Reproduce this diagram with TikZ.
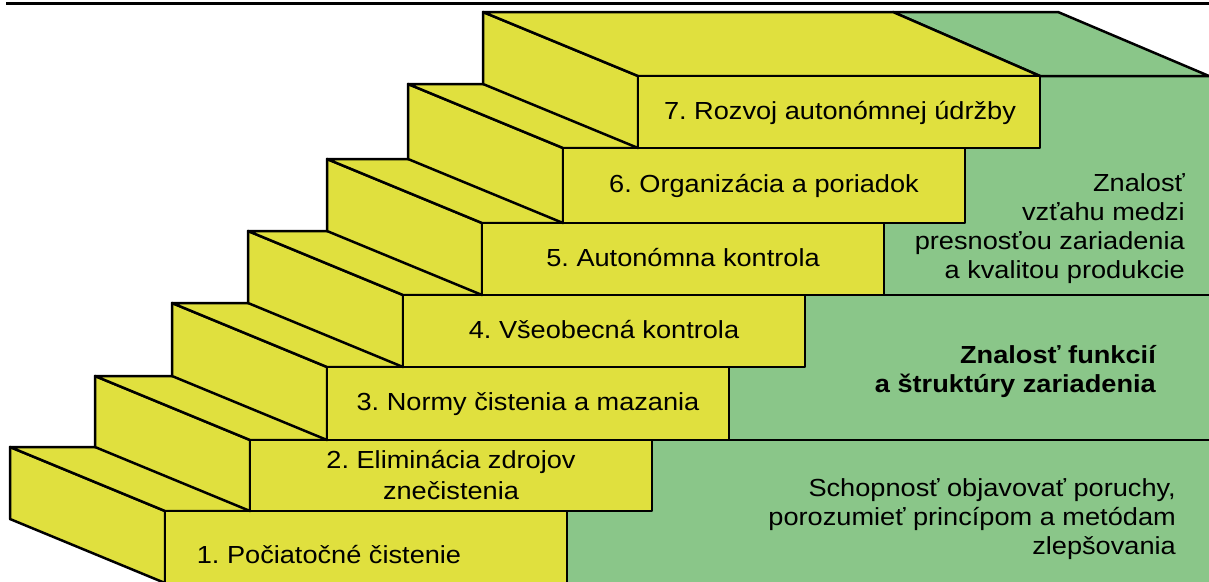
\documentclass[tikz,border=0pt]{standalone}
\usepackage{fontspec}
\setmainfont{Liberation Sans}[FakeStretch=1.1]
\frenchspacing
\definecolor{stepyellow}{RGB}{224,224,62}
\definecolor{knowgreen}{RGB}{138,198,137}

\begin{document}
\begin{tikzpicture}[x=1pt,y=-1pt,
  face/.style={fill=stepyellow,draw=black,line width=2.5pt,line join=round},
  gface/.style={fill=knowgreen,draw=black,line width=2.5pt,line join=round},
  edge/.style={draw=black,line width=2.5pt},
  steplabel/.style={font=\fontsize{24.7}{31}\selectfont,inner sep=0pt,align=center},
  greenlabel/.style={font=\fontsize{24.7}{29}\selectfont,inner sep=0pt,align=right,anchor=east},
]
\useasboundingbox (0,0) rectangle (1209,581);

\begin{scope}
  \clip (0,0) rectangle (1209,581);
  % green block standing behind the stairs
  \fill[knowgreen] (567,76) rectangle (1220,590);
  \draw[gface] (1040,76) -- (893,12) -- (1058,12) -- (1209,76) -- cycle;

  % seven steps, from the lowest to the highest:
  % front top-left x / front top y / front bottom y
  \foreach \xf/\yf/\yb in {165/511/583, 250/440/511, 327/367/440,
                           403/295/367, 482/223/295, 563/148/223, 638/76/148} {
    % left side face
    \draw[face] (\xf,\yf) -- (\xf,\yb) -- (\xf-155,\yb-64) -- (\xf-155,\yf-64) -- cycle;
    % tread
    \draw[face] (\xf,\yf) -- (\xf+402,\yf) -- (\xf+255,\yf-64) -- (\xf-155,\yf-64) -- cycle;
    % front face
    \draw[face] (\xf,\yf) rectangle (\xf+402,\yb);
  }

  % level lines across the green block
  \draw[edge] (1040,76) -- (1209,76);
  \draw[edge] (884,295) -- (1209,295);
  \draw[edge] (729,440) -- (1209,440);
\end{scope}

% rule along the top
\draw[line width=2.8pt] (6,3.2) -- (1209,3.2);

% step labels
\node[steplabel,anchor=base] (s7) at (840,119) {7. Rozvoj autonómnej údržby};
\node[steplabel,anchor=base] (s6) at (764,192.5) {6. Organizácia a poriadok};
\node[steplabel,anchor=base] (s5) at (683,266) {5. Autonómna kontrola};
\node[steplabel,anchor=base] (s4) at (604,338) {4. Všeobecná kontrola};
\node[steplabel,anchor=base] (s3) at (528,410.5) {3. Normy čistenia a mazania};
\node[steplabel] (s2) at (451,475) {2. Eliminácia zdrojov\\znečistenia};
\node[steplabel,anchor=base] (s1) at (329,563) {1. Počiatočné čistenie};

% knowledge labels on the green block
\node[greenlabel] (k1) at (1185,229)
  {Znalosť\\vzťahu medzi\\presnosťou zariadenia\\a kvalitou produkcie};
\node[greenlabel,font=\fontsize{24.7}{29}\selectfont\bfseries] (k2) at (1156,371)
  {Znalosť funkcií\\a štruktúry zariadenia};
\node[greenlabel] (k3) at (1176,519.5)
  {Schopnosť objavovať poruchy,\\porozumieť princípom a metódam\\zlepšovania};
\end{tikzpicture}
\end{document}
